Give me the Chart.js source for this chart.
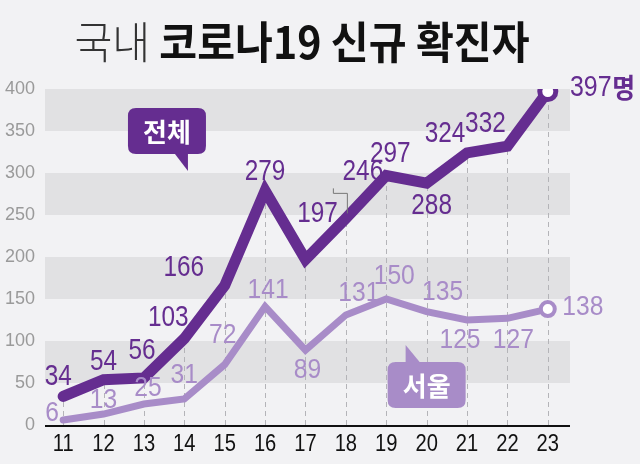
<!DOCTYPE html>
<html>
<head>
<meta charset="utf-8">
<script src="https://cdn.jsdelivr.net/npm/chart.js@4.4.1/dist/chart.umd.min.js"></script>
<style>
  html, body { margin: 0; padding: 0; background: #f2f2f4; }
  #wrap { width: 640px; height: 464px; }
</style>
</head>
<body>
<div id="wrap"><canvas id="covid-chart"></canvas></div>
<script>
// Dates (day of month) and daily new cases
let days = [11, 12, 13, 14, 15, 16, 17, 18, 19, 20, 21, 22, 23]
let totalCases = [34, 54, 56, 103, 166, 279, 197, 246, 297, 288, 324, 332, 397]
let seoulCases = [6, 13, 25, 31, 72, 141, 89, 131, 150, 135, 125, 127, 138]
let yTicks = [0, 50, 100, 150, 200, 250, 300, 350, 400]

let darkPurple = '#652d90'
let lightPurple = '#a88cc8'
let numFont = '"Liberation Sans", "Noto Sans", sans-serif'
let krFont = '"Noto Sans CJK KR", sans-serif'

// Where each value label sits relative to its point (pixels)
let totalLabelOffsets = [[-5,-19],[0,-18],[-2,-27],[-16,-20],[-41,-18],[0,-19],[12,-46],[17,-46],[4,-22],[5,23],[-22,-19],[-22,-22],[43,-4]]
let seoulLabelOffsets = [[-11,-7],[0,-14],[4,-16],[0,-24],[-2,-29],[3,-16],[2,20],[13,-22],[8,-23],[16,-19],[-7,20],[6,22],[35,-2]]

function toPoints(values) {
    return values.map(function(v, i) { return { x: days[i], y: v } })
}

// Draw condensed text (the reference uses a narrow face)
function narrowText(ctx, text, x, y, font, color, squeeze) {
    ctx.save()
    ctx.font = font
    ctx.fillStyle = color
    ctx.textAlign = 'center'
    ctx.textBaseline = 'middle'
    ctx.translate(x, y)
    ctx.scale(squeeze, 1)
    ctx.fillText(text, 0, 0)
    ctx.restore()
}

// Background bands, dashed drop lines and axis line
let backdropPlugin = {
    id: 'backdrop',
    beforeDatasetsDraw: function(chart) {
        let ctx = chart.ctx
        let area = chart.chartArea
        let xs = chart.scales.x
        let ys = chart.scales.y
        ctx.save()
        ctx.fillStyle = '#e1e1e3'
        for (let v = 50; v < 400; v += 100) {
            let top = ys.getPixelForValue(v + 50)
            let bottom = ys.getPixelForValue(v)
            ctx.fillRect(area.left, top, area.right - area.left, bottom - top)
        }
        ctx.strokeStyle = '#b4b4b8'
        ctx.lineWidth = 1
        ctx.setLineDash([5, 4])
        days.forEach(function(d, i) {
            let x = Math.round(xs.getPixelForValue(d)) + 0.5
            ctx.beginPath()
            ctx.moveTo(x, ys.getPixelForValue(0))
            ctx.lineTo(x, ys.getPixelForValue(totalCases[i]))
            ctx.stroke()
        })
        ctx.setLineDash([])
        ctx.strokeStyle = '#111'
        ctx.lineWidth = 2
        ctx.beginPath()
        ctx.moveTo(area.left, ys.getPixelForValue(0) + 1)
        ctx.lineTo(area.right, ys.getPixelForValue(0) + 1)
        ctx.stroke()
        // x tick labels, condensed
        days.forEach(function(d) {
            narrowText(ctx, String(d), xs.getPixelForValue(d), 444, '24px ' + numFont, '#111', 0.84)
        })
        ctx.restore()
    }
}

function bubble(ctx, left, top, w, h, tail, color, text) {
    ctx.save()
    ctx.fillStyle = color
    let r = 8
    ctx.beginPath()
    ctx.moveTo(left + r, top)
    ctx.lineTo(left + w - r, top)
    ctx.quadraticCurveTo(left + w, top, left + w, top + r)
    ctx.lineTo(left + w, top + h - r)
    ctx.quadraticCurveTo(left + w, top + h, left + w - r, top + h)
    ctx.lineTo(left + r, top + h)
    ctx.quadraticCurveTo(left, top + h, left, top + h - r)
    ctx.lineTo(left, top + r)
    ctx.quadraticCurveTo(left, top, left + r, top)
    ctx.fill()
    ctx.beginPath()
    ctx.moveTo(tail[0][0], tail[0][1])
    ctx.lineTo(tail[1][0], tail[1][1])
    ctx.lineTo(tail[2][0], tail[2][1])
    ctx.closePath()
    ctx.fill()
    ctx.fillStyle = '#fff'
    ctx.font = 'bold 26px ' + krFont
    ctx.textAlign = 'center'
    ctx.textBaseline = 'middle'
    ctx.fillText(text, left + w / 2, top + h / 2 + 1)
    ctx.restore()
}

// Value labels, title, callouts
let labelPlugin = {
    id: 'labels',
    afterDatasetsDraw: function(chart) {
        let ctx = chart.ctx
        let xs = chart.scales.x
        let ys = chart.scales.y

        // leader line for 246
        let px = xs.getPixelForValue(18)
        let py = ys.getPixelForValue(246)
        ctx.save()
        ctx.strokeStyle = '#777'
        ctx.lineWidth = 1
        ctx.beginPath()
        ctx.moveTo(px - 12.5, py - 30)
        ctx.lineTo(px - 12.5, py - 25)
        ctx.lineTo(px + 1.5, py - 25)
        ctx.lineTo(px + 1.5, py - 5)
        ctx.stroke()
        ctx.restore()

        seoulCases.forEach(function(v, i) {
            let x = xs.getPixelForValue(days[i]) + seoulLabelOffsets[i][0]
            let y = ys.getPixelForValue(v) + seoulLabelOffsets[i][1]
            narrowText(ctx, String(v), x, y, '28px ' + numFont, lightPurple, 0.88)
        })
        totalCases.forEach(function(v, i) {
            let x = xs.getPixelForValue(days[i]) + totalLabelOffsets[i][0]
            let y = ys.getPixelForValue(v) + totalLabelOffsets[i][1]
            if (i === totalCases.length - 1) {
                narrowText(ctx, String(v), x, y, '29px ' + numFont, darkPurple, 0.86)
                narrowText(ctx, '명', x + 33, y, 'bold 27px ' + krFont, darkPurple, 0.92)
            } else {
                narrowText(ctx, String(v), x, y, '29px ' + numFont, darkPurple, 0.84)
            }
        })

        // callouts anchored on the scales
        let bx = xs.getPixelForValue(13.57)
        let by = ys.getPixelForValue(350)
        bubble(ctx, bx - 39, by - 23, 78, 46, [[bx + 8, by + 23], [bx + 21, by + 40], [bx + 21, by + 23]], darkPurple, '전체')
        let sx = xs.getPixelForValue(20.0)
        let sy = ys.getPixelForValue(47.6)
        bubble(ctx, sx - 39, sy - 23, 78, 46, [[sx - 21, sy - 23], [sx - 21, sy - 40], [sx - 7, sy - 23]], lightPurple, '서울')

        // title
        ctx.save()
        ctx.textBaseline = 'middle'
        ctx.textAlign = 'left'
        let part1 = '국내 '
        let part2 = '코로나19 신규 확진자'
        ctx.font = '300 44px ' + krFont
        let w1 = ctx.measureText(part1).width
        ctx.font = 'bold 44px ' + krFont
        let w2 = ctx.measureText(part2).width
        let squeeze = 455 / (w1 + w2)
        let start = 302 - (w1 + w2) * squeeze / 2
        ctx.translate(start, 42)
        ctx.scale(squeeze, 1)
        ctx.font = '300 44px ' + krFont
        ctx.fillStyle = '#333'
        ctx.fillText(part1, 0, 0)
        ctx.font = 'bold 44px ' + krFont
        ctx.fillStyle = '#111'
        ctx.fillText(part2, w1, 0)
        ctx.restore()
    }
}

let canvas = document.querySelector('#covid-chart')
let context = canvas.getContext('2d')

let covidChart = new Chart(context, {
    type: 'line',
    data: {
        datasets: [
            {
                label: '서울',
                data: toPoints(seoulCases),
                borderColor: lightPurple,
                borderWidth: 7,
                tension: 0,
                borderJoinStyle: 'miter',
                borderCapStyle: 'round',
                pointRadius: seoulCases.map(function(v, i) { return i === seoulCases.length - 1 ? 7 : 0 }),
                pointBorderWidth: 4,
                pointBackgroundColor: '#fff',
                pointBorderColor: lightPurple
            },
            {
                label: '전체',
                data: toPoints(totalCases),
                borderColor: darkPurple,
                borderWidth: 11,
                tension: 0,
                borderJoinStyle: 'miter',
                borderCapStyle: 'round',
                pointRadius: totalCases.map(function(v, i) { return i === totalCases.length - 1 ? 8 : 0 }),
                pointBorderWidth: 5,
                pointBackgroundColor: '#fff',
                pointBorderColor: darkPurple
            }
        ]
    },
    options: {
        responsive: true,
        maintainAspectRatio: false,
        animation: false,
        layout: { padding: { top: 89, right: 70, left: 0, bottom: 0 } },
        plugins: { legend: { display: false }, tooltip: { enabled: false } },
        scales: {
            x: {
                type: 'linear',
                min: 10.55,
                max: 23.55,
                afterBuildTicks: function(scale) {
                    scale.ticks = days.map(function(d) { return { value: d } })
                },
                afterFit: function(scale) { scale.height = 39 },
                grid: { display: false },
                border: { display: false },
                ticks: { display: false }
            },
            y: {
                min: 0,
                max: 400,
                afterBuildTicks: function(scale) {
                    scale.ticks = yTicks.map(function(v) { return { value: v } })
                },
                afterFit: function(scale) { scale.width = 45 },
                grid: { display: false, drawTicks: false },
                border: { display: false },
                ticks: {
                    color: '#9a9a9a',
                    font: { family: numFont, size: 18 },
                    padding: 10
                }
            }
        }
    },
    plugins: [backdropPlugin, labelPlugin]
})
</script>
</body>
</html>
